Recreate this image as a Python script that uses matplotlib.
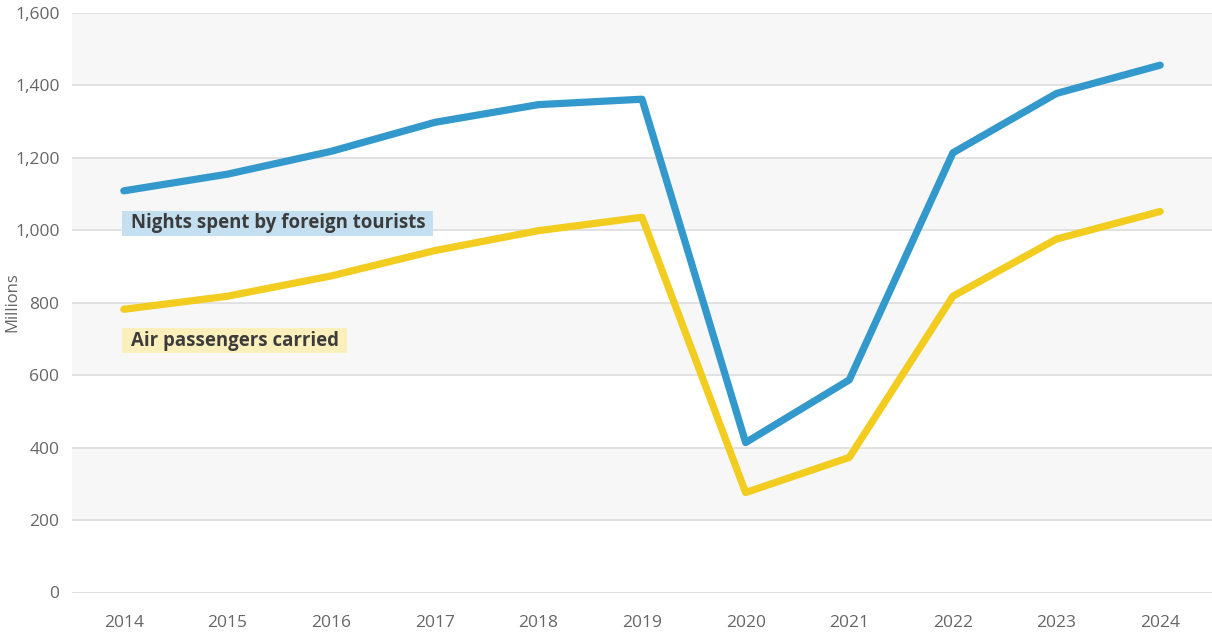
import matplotlib
matplotlib.use("Agg")
import matplotlib.pyplot as plt
from matplotlib.patches import Rectangle
from matplotlib.ticker import FuncFormatter

years = ["2014", "2015", "2016", "2017", "2018", "2019", "2020", "2021", "2022", "2023", "2024"]
nights_foreign = [1109, 1155, 1218, 1298, 1347, 1362, 414, 587, 1214, 1378, 1456]
air_passengers = [782, 818, 874, 944, 999, 1036, 276, 373, 818, 976, 1052]

series_names = ["Nights spent by foreign tourists", "Air passengers carried"]
y_ticks = [0, 200, 400, 600, 800, 1000, 1200, 1400, 1600]

BLUE = "#3399cc"
YELLOW = "#f2cc1f"
TEXT = "#3c3c3c"
TICK = "#666666"

plt.rcParams["font.family"] = ["Open Sans", "DejaVu Sans"]

fig = plt.figure(figsize=(12.12, 6.35), dpi=100)
ax = fig.add_axes([72 / 1212, 42.5 / 635, 1140 / 1212, 579.5 / 635])

x = list(range(len(years)))
ax.set_xlim(-0.5, len(years) - 0.5)
ax.set_ylim(0, 1600)

# alternating horizontal bands
for lo in (200, 600, 1000, 1400):
    ax.axhspan(lo, lo + 200, color="#f7f7f7", zorder=0, lw=0)
for t in y_ticks:
    ax.axhline(t, color="#dddddd", lw=1.2, zorder=1)

ax.plot(x, nights_foreign, color=BLUE, lw=5.2, solid_capstyle="round",
        solid_joinstyle="round", zorder=3)
ax.plot(x, air_passengers, color=YELLOW, lw=5.2, solid_capstyle="round",
        solid_joinstyle="round", zorder=3)

# series labels on tinted boxes
labels = [
    ax.text(0.068, 1019, series_names[0], fontsize=13.4, fontweight="bold", color=TEXT,
            va="center", ha="left", zorder=4),
    ax.text(0.068, 695, series_names[1], fontsize=13.4, fontweight="bold", color=TEXT,
            va="center", ha="left", zorder=4),
]
box_colors = ["#c3dff0", "#fbefbc"]
fig.canvas.draw()
renderer = fig.canvas.get_renderer()
inv = ax.transData.inverted()
for txt, fc in zip(labels, box_colors):
    bb = txt.get_window_extent(renderer)
    cy = (bb.y0 + bb.y1) / 2
    (x0, y0) = inv.transform((bb.x0 - 9, cy - 12.5))
    (x1, y1) = inv.transform((bb.x1 + 8, cy + 12.5))
    ax.add_patch(Rectangle((x0, y0), x1 - x0, y1 - y0, fc=fc, ec="none", zorder=3.5))

ax.set_xticks(x)
ax.set_xticklabels(years)
ax.set_yticks(y_ticks)
ax.yaxis.set_major_formatter(FuncFormatter(lambda v, p: f"{int(v):,}"))
ax.tick_params(axis="both", length=0, labelsize=12.5, labelcolor=TICK)
ax.tick_params(axis="x", pad=16)
ax.tick_params(axis="y", pad=9)

fig.text(12 / 1212, (635 - 302) / 635, "Millions", rotation=90, fontsize=12,
         color=TICK, ha="center", va="center")

for s in ax.spines.values():
    s.set_visible(False)
ax.set_facecolor("white")
fig.patch.set_facecolor("white")

fig.savefig("out.png", dpi=100)
